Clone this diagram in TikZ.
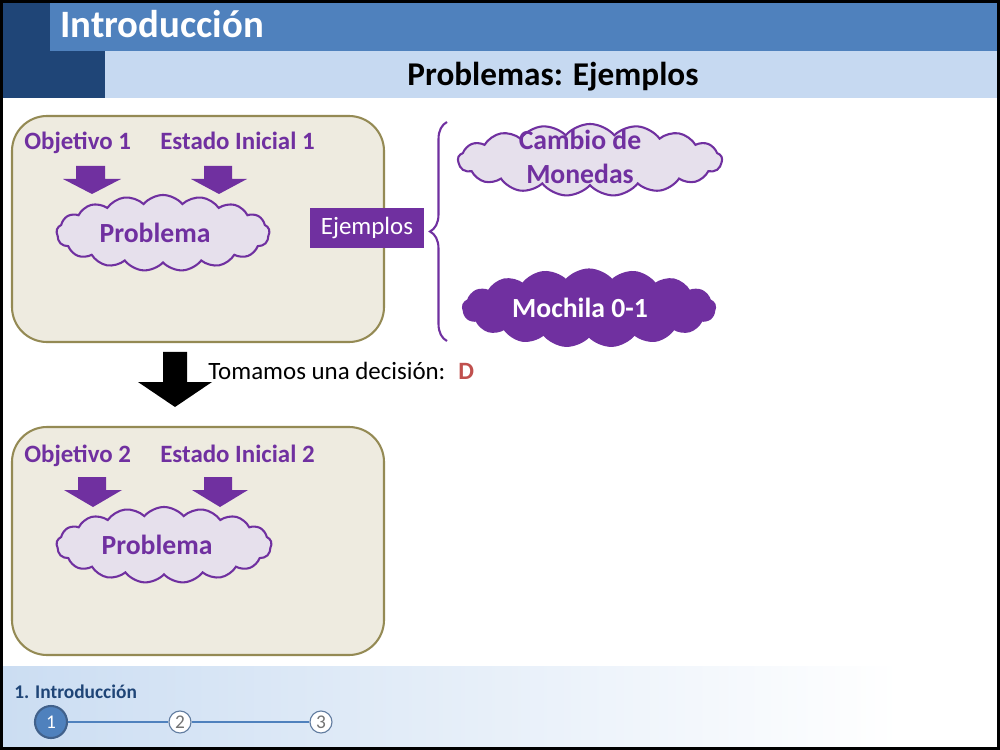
\documentclass[tikz,border=0pt]{standalone}
\usepackage{fontspec}
\setmainfont{Carlito}
\usetikzlibrary{shapes.symbols,decorations.pathreplacing}
\definecolor{darkblue}{HTML}{1F4577}
\definecolor{midblue}{HTML}{4F81BD}
\definecolor{lightblue}{HTML}{C6D9F1}
\definecolor{footblue}{HTML}{CBDDF2}
\definecolor{purp}{HTML}{7030A0}
\definecolor{lav}{HTML}{E6E0EC}
\definecolor{beige}{HTML}{EEEBE0}
\definecolor{olive}{HTML}{948A54}
\definecolor{redd}{HTML}{C0504D}
\begin{document}
\begin{tikzpicture}[x=0.01in,y=-0.01in]
	\tikzstyle{every node}+=[inner sep=0pt]
	\tikzstyle{frame}=[fill=beige,draw=olive,line width=1.5pt,rounded corners=0.35in]
	\tikzstyle{goal}=[anchor=base west,text=purp,font=\fontsize{18}{21}\selectfont\bfseries]
	\tikzstyle{bubble}=[cloud,cloud puffs=17,cloud puff arc=100,cloud ignores aspect,draw=purp,line width=1.5pt,fill=lav]
	\tikzstyle{bubbletext}=[text=purp,align=center,font=\fontsize{20}{24}\selectfont\bfseries]
	\tikzstyle{stepdot}=[circle,draw=darkblue!70,line width=0.8pt,fill=white,minimum size=0.22in,text=black!55,font=\fontsize{14}{16}\selectfont]
	\useasboundingbox (0,0) rectangle (1000,750);
	\fill [white] (0,0) rectangle (1000,750);
	% header
	\fill [darkblue] (3,3) rectangle (105,98);
	\fill [midblue] (50,3) rectangle (997,51);
	\fill [lightblue] (105,51) rectangle (997,98);
	\node [anchor=base west,text=white,font=\fontsize{28}{32}\selectfont\bfseries] (title) at (60,38) {Introducción};
	\node [anchor=base,font=\fontsize{24}{28}\selectfont\bfseries] (subtitle) at (553,86) {Problemas: Ejemplos};
	% first problem
	\draw [frame] (12,116) rectangle (384,342);
	\node [goal] (obj1) at (24,150) {Objetivo 1};
	\node [goal] (ini1) at (160,150) {Estado Inicial 1};
	\fill [purp] (76,166) -- (105,166) -- (105,179) -- (121,179) -- (92,194) -- (63,179) -- (76,179) -- cycle;
	\fill [purp] (204,166) -- (232,166) -- (232,179) -- (247,179) -- (219,194) -- (191,179) -- (204,179) -- cycle;
	\node [bubble,minimum width=2.13in,minimum height=0.76in] (prob1) at (163,233) {};
	\node [bubbletext] at (155,233) {Problema};
	% examples
	\node [fill=purp,text=white,minimum width=1.13in,minimum height=0.39in,font=\fontsize{18}{21}\selectfont] (ej) at (367,228) {Ejemplos};
	\draw [purp,line width=1.5pt,decorate,decoration={brace,amplitude=0.17in}] (447,341) -- (447,122);
	\node [bubble,minimum width=2.64in,minimum height=0.72in] (cambio) at (590,160) {};
	\node [bubbletext] at (580,157) {Cambio de\\Monedas};
	\node [bubble,fill=purp,minimum width=2.52in,minimum height=0.77in] (mochila) at (589,308) {};
	\node [bubbletext,text=white] at (580,308) {Mochila 0-1};
	% decision
	\fill [black] (163,352) -- (187,352) -- (187,382) -- (212,382) -- (175,407) -- (138,382) -- (163,382) -- cycle;
	\node [anchor=base west,font=\fontsize{18}{21}\selectfont] (dec) at (208,379) {Tomamos una decisión:};
	\node [anchor=base west,text=redd,font=\fontsize{18}{21}\selectfont\bfseries] (d) at (458,379) {D};
	% second problem
	\draw [frame] (12,427) rectangle (384,655);
	\node [goal] (obj2) at (24,462) {Objetivo 2};
	\node [goal] (ini2) at (160,462) {Estado Inicial 2};
	\fill [purp] (78,477) -- (106,477) -- (106,490) -- (122,490) -- (93,507) -- (64,490) -- (78,490) -- cycle;
	\fill [purp] (204,477) -- (232,477) -- (232,490) -- (248,490) -- (220,507) -- (192,490) -- (204,490) -- cycle;
	\node [bubble,minimum width=2.15in,minimum height=0.76in] (prob2) at (164,545) {};
	\node [bubbletext] at (157,545) {Problema};
	% footer
	\shade [left color=footblue,right color=white] (3,666) rectangle (900,747);
	\node [anchor=base west,text=darkblue,font=\fontsize{14}{16}\selectfont\bfseries] (sect) at (14,698) {1. Introducción};
	\node [stepdot,fill=midblue,draw=darkblue!85,line width=1.5pt,minimum size=0.32in,text=white] (s1) at (51,722) {1};
	\node [stepdot] (s2) at (180,722) {2};
	\node [stepdot] (s3) at (321,722) {3};
	\draw [midblue,line width=0.8pt] (s1) -- (s2);
	\draw [midblue,line width=0.8pt] (s2) -- (s3);
	% slide frame
	\draw [black,line width=0.03in] (1.5,1.5) rectangle (998.5,748.5);
\end{tikzpicture}
\end{document}
